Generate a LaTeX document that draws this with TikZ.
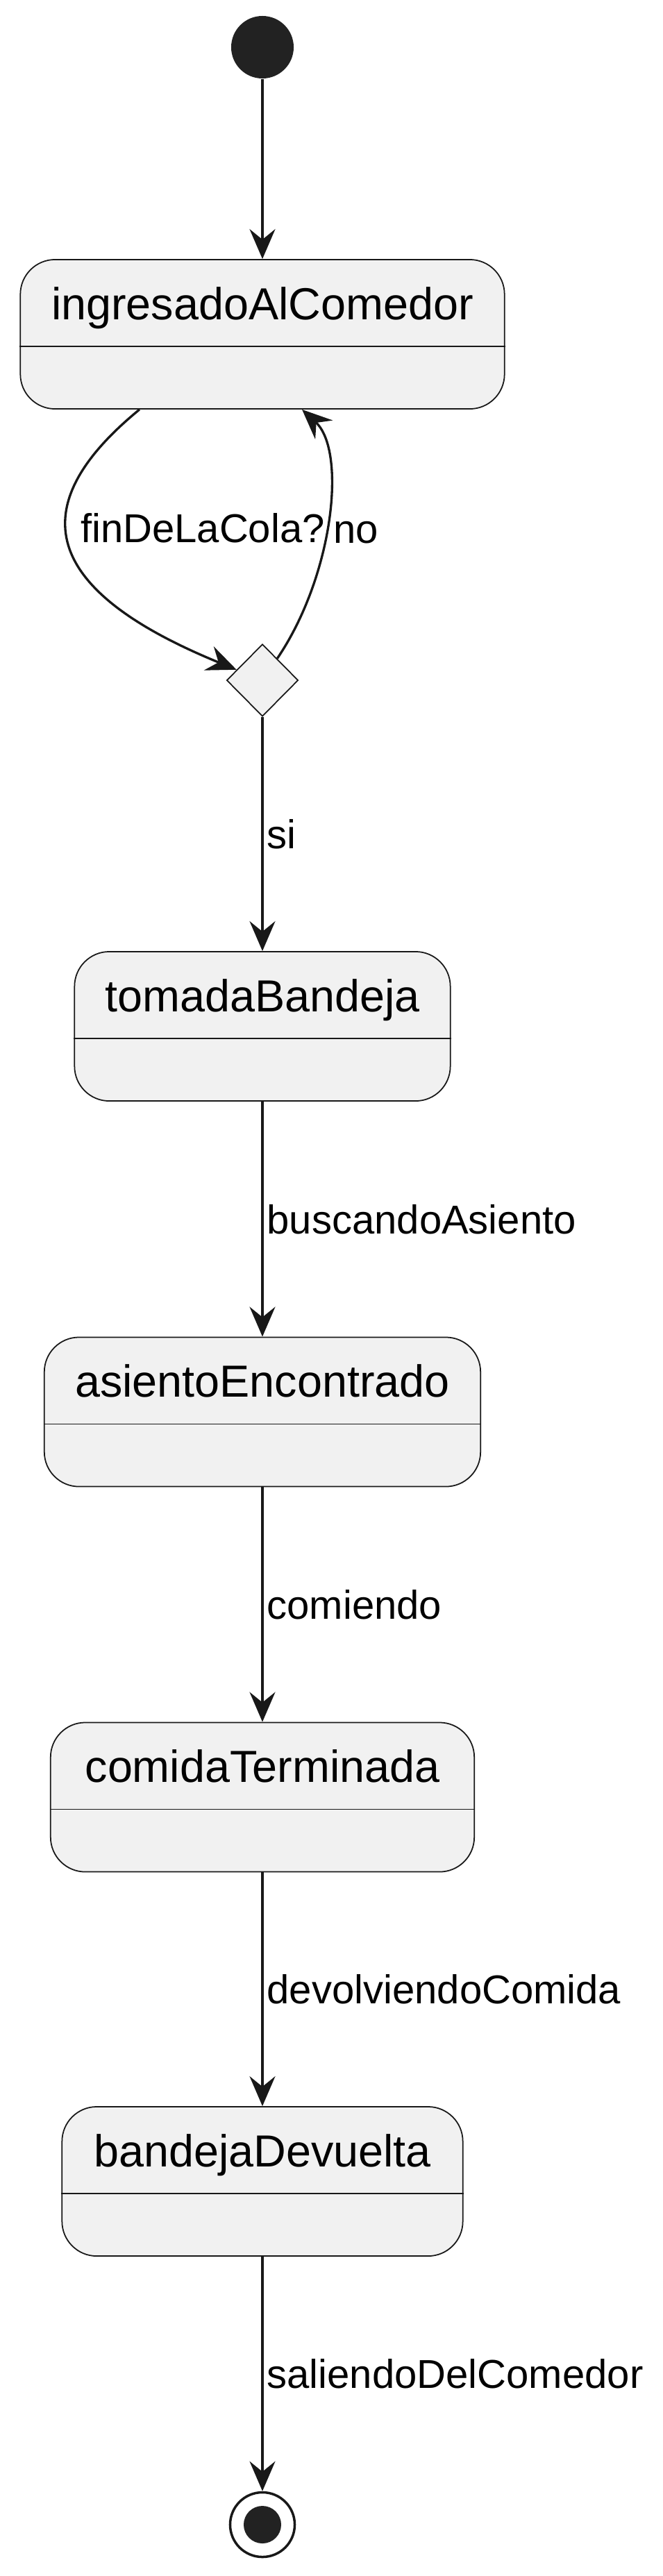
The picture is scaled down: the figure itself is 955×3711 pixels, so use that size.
\documentclass[tikz,border=0pt]{standalone}
\usepackage{fontspec}
\setmainfont{Liberation Sans}
\usetikzlibrary{shapes.geometric, arrows.meta, calc}

\definecolor{umlline}{HTML}{181818}
\definecolor{umlfill}{HTML}{F1F1F1}
\definecolor{umldot}{HTML}{222222}

\newcommand{\statefont}{\fontsize{18.4}{22}\selectfont}
\newcommand{\edgefont}{\fontsize{16.5}{20}\selectfont}

\begin{document}
\begin{tikzpicture}
            [x=0.01cm, y=-0.01cm,
            statebox/.style={rectangle, rounded corners=0.5cm, draw=umlline, fill=umlfill, line width=0.5pt, minimum height=2.15cm, inner sep=0},
            statename/.style={font=\statefont, anchor=base, inner sep=0},
            divider/.style={draw=umlline, line width=0.5pt},
            choice/.style={diamond, draw=umlline, fill=umlfill, line width=0.5pt, minimum width=1.03cm, minimum height=1.04cm, inner sep=0},
            startdot/.style={circle, fill=umldot, minimum size=0.9cm, inner sep=0},
            enddot/.style={circle, draw=umlline, fill=white, line width=0.035cm, minimum size=0.93cm, inner sep=0},
            trans/.style={draw=umlline, line width=0.95pt, -{Stealth[length=0.43cm, width=0.37cm, inset=0.15cm]}},
            edgelabel/.style={font=\edgefont, inner sep=0.05cm}]

            \useasboundingbox (0,0) rectangle (955,3711);

            \node[startdot] (start) at (378,68) {};
            \node[statebox, minimum width=6.97cm] (ing) at (378,481.5) {};
            \node[choice] (dia) at (378,980) {};
            \node[statebox, minimum width=5.41cm] (tom) at (378,1478.5) {};
            \node[statebox, minimum width=6.28cm] (asi) at (378,2034) {};
            \node[statebox, minimum width=6.10cm] (com) at (378,2589) {};
            \node[statebox, minimum width=5.77cm] (ban) at (378,3142.5) {};
            \node[enddot] (stop) at (378,3637) {};
            \node[circle, fill=umldot, minimum size=0.54cm, inner sep=0] (stopin) at (stop) {};

            % state names
            \node[statename] (ing-t) at ($(ing.north)+(0,87)$) {ingresadoAlComedor};
            \node[statename] (tom-t) at ($(tom.north)+(0,87)$) {tomadaBandeja};
            \node[statename] (asi-t) at ($(asi.north)+(0,87)$) {asientoEncontrado};
            \node[statename] (com-t) at ($(com.north)+(0,87)$) {comidaTerminada};
            \node[statename] (ban-t) at ($(ban.north)+(0,87)$) {bandejaDevuelta};

            % compartment lines
            \draw[divider] ($(ing.north west)+(0,126)$) -- ($(ing.north east)+(0,126)$);
            \draw[divider] ($(tom.north west)+(0,126)$) -- ($(tom.north east)+(0,126)$);
            \draw[divider] ($(asi.north west)+(0,126)$) -- ($(asi.north east)+(0,126)$);
            \draw[divider] ($(com.north west)+(0,126)$) -- ($(com.north east)+(0,126)$);
            \draw[divider] ($(ban.north west)+(0,126)$) -- ($(ban.north east)+(0,126)$);

            % transitions
            \draw[trans] (start) -- (ing);
            \draw[trans] ([xshift=-1.77cm]ing.south) .. controls (30,730) and (60,850) .. (dia)
                node[edgelabel, pos=0.5, anchor=base west, xshift=0.08cm, yshift=0.05cm] {finDeLaCola?};
            \draw[trans] (dia) .. controls (480,830) and (500,650) .. ([xshift=0.57cm]ing.south)
                node[edgelabel, pos=0.5, anchor=base west, xshift=0.02cm, yshift=-0.35cm] {no};
            \draw[trans] (dia) -- (tom) node[edgelabel, midway, anchor=west] {si};
            \draw[trans] (tom) -- (asi) node[edgelabel, midway, anchor=west] {buscandoAsiento};
            \draw[trans] (asi) -- (com) node[edgelabel, midway, anchor=west] {comiendo};
            \draw[trans] (com) -- (ban) node[edgelabel, midway, anchor=west] {devolviendoComida};
            \draw[trans] (ban) -- (stop) node[edgelabel, midway, anchor=west] {saliendoDelComedor};

        \end{tikzpicture}
\end{document}
